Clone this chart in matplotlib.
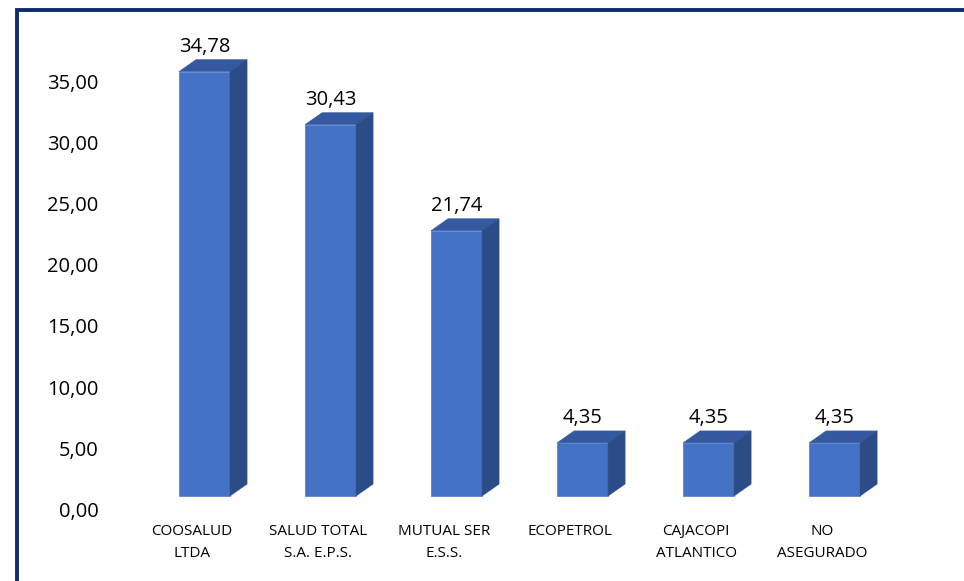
import matplotlib.pyplot as plt
from matplotlib.patches import Polygon, Rectangle

plt.rcParams['font.family'] = ['Open Sans', 'DejaVu Sans']

categorias = ['COOSALUD\nLTDA', 'SALUD TOTAL\nS.A. E.P.S.', 'MUTUAL SER\nE.S.S.',
              'ECOPETROL', 'CAJACOPI\nATLANTICO', 'NO\nASEGURADO']
valores = [34.78, 30.43, 21.74, 4.35, 4.35, 4.35]
yticks = [0, 5, 10, 15, 20, 25, 30, 35]

frente = '#4472C4'
techo = '#3559A0'
lado = '#2C4C88'

fig = plt.figure(figsize=(9.64, 5.81), dpi=100)
ax = fig.add_axes([0.1338, 0.1239, 0.7843, 0.798])
ax.set_xlim(-0.5, len(valores) - 0.5)
ax.set_ylim(0, 38)

# pseudo 3D bars
base = 1.07
w = 0.405
dx, dy = 0.135, 0.98
for i, v in enumerate(valores):
    x0 = i - 0.103
    ax.add_patch(Rectangle((x0, base), w, v, facecolor=frente, edgecolor='#5B85D0', lw=0.6))
    ax.add_patch(Polygon([(x0, base + v), (x0 + w, base + v), (x0 + w + dx, base + v + dy),
                          (x0 + dx, base + v + dy)], closed=True, facecolor=techo, edgecolor=techo, lw=0.4))
    ax.add_patch(Polygon([(x0 + w, base), (x0 + w + dx, base + dy), (x0 + w + dx, base + v + dy),
                          (x0 + w, base + v)], closed=True, facecolor=lado, edgecolor=lado, lw=0.4))
    ax.annotate(f'{v:.2f}'.replace('.', ','), (x0 + w / 2, base + v + dy), xytext=(0, 2),
                textcoords='offset points', ha='center', va='bottom', fontsize=14.5, color='black',
                annotation_clip=False)

ax.set_xticks(range(len(categorias)))
ax.set_xticklabels(categorias, fontsize=11, linespacing=1.6)
ax.set_yticks(yticks)
ax.set_yticklabels([f'{t:.2f}'.replace('.', ',') for t in yticks], fontsize=14.5)
ax.tick_params(axis='x', length=0, pad=11)
ax.tick_params(axis='y', length=0, pad=22)
for s in ax.spines.values():
    s.set_visible(False)

# dark border of the chart box
fig.patches.append(Rectangle((17 / 964, -0.1), 1.2, 1 - 10 / 581 + 0.1, transform=fig.transFigure,
                             fill=False, edgecolor='#102D6B', lw=2.8))

fig.savefig('out.png', dpi=100)
